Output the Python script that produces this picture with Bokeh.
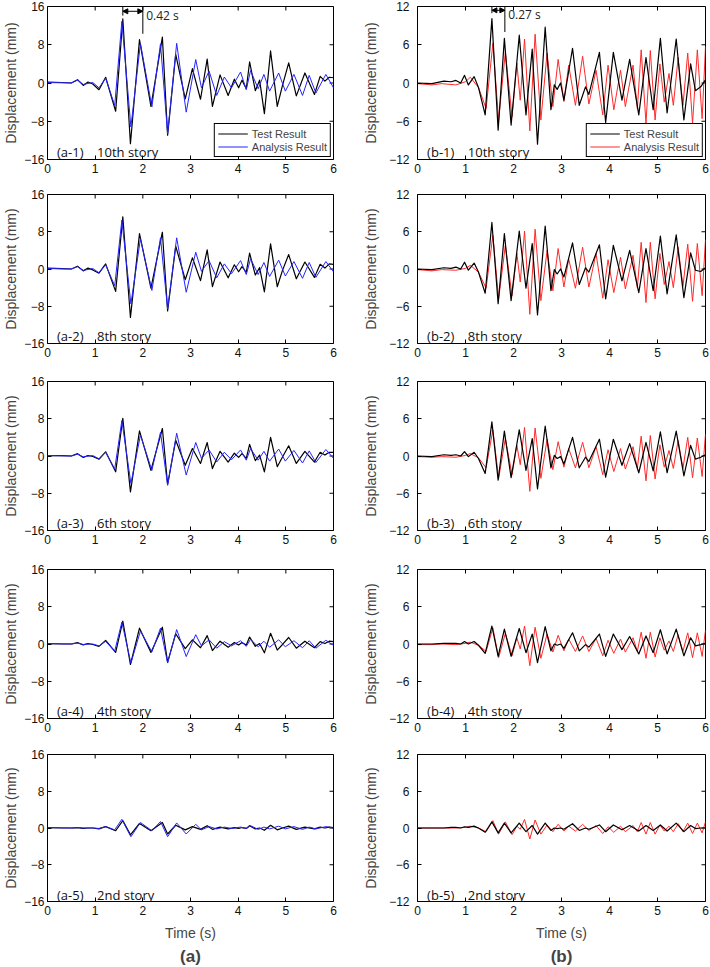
from bokeh.plotting import figure
from bokeh.models import (Range1d, FixedTicker, LinearAxis, Legend, LegendItem, Label,
                          Arrow, NormalHead, Title)
from bokeh.layouts import row, column
from bokeh.embed import file_html
from bokeh.resources import INLINE

# ---------------- data ----------------
time_ticks = [0, 1, 2, 3, 4, 5, 6]
ticks_a = [-16, -8, 0, 8, 16]
ticks_b = [-12, -6, 0, 6, 12]

# (a) column : test result (black) and analysis result (blue)
t_a_test = [0, 0.3, 0.5, 0.63, 0.75, 0.85, 0.95, 1.08, 1.22, 1.43, 1.58, 1.74, 1.93, 2.17,
            2.41, 2.52, 2.69, 2.89, 3.04, 3.21, 3.35, 3.46, 3.62, 3.79, 3.92, 4.01, 4.08,
            4.17, 4.24, 4.36, 4.45, 4.55, 4.68, 4.82, 4.93, 5.06, 5.22, 5.40, 5.60, 5.72,
            5.82, 5.91, 6.0]
a1_test = [0.2, 0.1, 0.0, 0.7, -0.5, 0.2, -0.2, -1.4, 1.2, -5.9, 13.4, -12.7, 9.1, -4.9,
           9.6, -10.9, 6.0, -3.3, 3.0, -3.4, 5.0, -4.9, 1.7, -2.6, 0.8, -1.0, 0.6, -1.2,
           4.4, -1.6, 0.6, -6.4, 6.7, -4.9, -0.5, 4.2, -2.7, 2.1, -2.4, 1.4, 0.4, 1.2, 1.1]
a2_test = [0.2, 0.1, 0.0, 0.6, -0.4, 0.2, -0.2, -0.9, 1.1, -4.8, 11.2, -10.4, 7.6, -4.1,
           7.9, -9.0, 4.9, -2.3, 2.4, -2.5, 4.1, -3.8, 1.5, -1.9, 0.9, -0.6, 0.5, -0.7,
           3.4, -1.3, 0.3, -4.9, 5.4, -3.8, -0.3, 3.1, -2.1, 1.5, -1.8, 1.0, 0.2, 1.1, 1.0]
a3_test = [0.1, 0.1, 0.0, 0.5, -0.3, 0.1, -0.1, -0.7, 0.9, -3.4, 8.1, -7.7, 5.4, -3.1,
           5.9, -6.1, 3.4, -2.0, 1.6, -1.6, 2.9, -2.7, 1.0, -1.3, 0.6, -0.3, 0.5, -0.5,
           2.5, -1.0, 0.2, -3.4, 4.0, -2.3, -0.2, 2.2, -1.6, 1.0, -1.3, 0.8, 0.2, 0.8, 0.8]
a4_test = [0.1, 0.0, 0.0, 0.3, -0.2, 0.1, -0.1, -0.5, 0.75, -1.8, 4.9, -4.4, 3.4, -1.8,
           3.6, -3.9, 2.2, -1.0, 0.9, -0.8, 1.8, -1.4, 0.6, -0.7, 0.3, -0.2, 0.3, -0.2,
           1.5, -0.5, 0.1, -1.9, 2.3, -1.3, -0.1, 1.4, -0.9, 0.6, -0.8, 0.5, 0.1, 0.6, 0.5]
a5_test = [0.1, 0.0, 0.0, 0.1, -0.1, 0.0, 0.0, -0.2, 0.3, -0.6, 1.6, -1.5, 1.0, -0.6,
           1.2, -1.3, 0.6, -0.4, 0.3, -0.3, 0.5, -0.3, 0.2, -0.2, 0.1, -0.1, 0.1, -0.1,
           0.5, -0.2, 0.0, -0.5, 0.6, -0.4, 0.0, 0.4, -0.3, 0.2, -0.2, 0.2, 0.0, 0.2, 0.1]

t_a_ana = [0, 0.5, 0.63, 0.75, 0.95, 1.08, 1.22, 1.41, 1.56, 1.75, 1.95, 2.19, 2.37, 2.52,
           2.71, 2.91, 3.11, 3.23, 3.39, 3.55, 3.71, 3.86, 4.05, 4.17, 4.26, 4.42, 4.54,
           4.66, 4.85, 4.99, 5.17, 5.35, 5.49, 5.63, 5.84, 6.0]
a1_ana = [0.1, 0.0, 0.6, -0.3, 0.1, -1.0, 1.0, -4.7, 12.9, -9.2, 8.3, -5.0, 8.2, -10.6,
          8.3, -6.1, 4.9, -1.0, 2.5, -2.6, 1.25, -1.0, 2.3, -1.4, 2.6, -1.2, 1.8, -1.7,
          2.1, -1.7, 1.8, -2.6, 1.6, -2.1, 1.8, -1.0]
a2_ana = [0.1, 0.0, 0.5, -0.3, 0.1, -0.8, 0.9, -3.6, 10.5, -7.5, 6.5, -4.6, 6.7, -8.6,
          6.7, -5.0, 3.6, -0.5, 1.8, -1.9, 1.1, -1.0, 1.8, -1.2, 2.2, -1.2, 1.4, -1.6,
          1.9, -1.5, 1.6, -2.0, 1.4, -1.8, 1.6, -0.6]
a3_ana = [0.1, 0.0, 0.4, -0.2, 0.1, -0.6, 0.8, -2.8, 7.6, -5.9, 4.5, -3.1, 5.1, -6.3,
          4.9, -4.1, 2.9, -0.5, 1.3, -1.3, 0.8, -0.8, 1.3, -0.9, 1.6, -0.9, 1.0, -1.1,
          1.5, -1.1, 1.2, -1.5, 1.1, -1.4, 1.4, -0.5]
a4_ana = [0.1, 0.0, 0.2, -0.1, 0.0, -0.4, 0.6, -1.5, 4.7, -4.1, 2.8, -1.7, 3.4, -4.1,
          3.1, -2.7, 2.0, -0.4, 0.9, -0.9, 0.5, -0.4, 0.7, -0.5, 1.0, -0.6, 0.6, -0.7,
          0.9, -0.6, 0.7, -0.8, 0.7, -0.9, 0.8, -0.3]
a5_ana = [0.1, 0.0, 0.1, 0.0, 0.0, -0.1, 0.3, -0.4, 1.9, -1.9, 1.2, -0.6, 1.4, -1.9,
          1.1, -1.3, 0.8, -0.4, 0.3, -0.2, 0.2, -0.1, 0.2, -0.1, 0.5, -0.3, 0.2, -0.2,
          0.4, -0.2, 0.3, -0.3, 0.2, -0.2, 0.3, 0.0]

# (b) column : test result (black) and analysis result (red)
t_b_test = [0, 0.3, 0.55, 0.7, 0.8, 0.9, 0.98, 1.06, 1.18, 1.27, 1.41, 1.55, 1.68, 1.81,
            1.95, 2.12, 2.26, 2.39, 2.50, 2.66, 2.78, 2.85, 2.91, 2.98, 3.05, 3.23, 3.37,
            3.50, 3.57, 3.79, 3.92, 4.08, 4.26, 4.42, 4.61, 4.76, 4.91, 5.06, 5.20, 5.39,
            5.55, 5.69, 5.79, 5.9, 6.0]
b1_test = [0, -0.1, 0.3, 0.2, 0.4, 0.0, 1.2, -0.3, 1.0, -0.7, -5.0, 10.1, -7.4, 7.0,
           -6.6, 7.5, -5.0, 5.3, -9.6, 8.75, -4.2, -0.3, -1.0, 0.0, -2.7, 5.45, -3.5,
           -0.6, -1.8, 4.8, -6.2, 4.8, -2.7, 3.7, -5.0, 4.0, -4.2, 7.0, -4.7, 6.9,
           -5.8, 3.0, -1.2, -0.6, 0.5]
b2_test = [0, -0.1, 0.2, 0.1, 0.3, 0.0, 1.1, -0.2, 0.95, -0.5, -3.9, 7.5, -5.6, 5.7,
           -5.1, 6.1, -3.1, 4.1, -7.4, 6.9, -3.5, -0.1, -0.8, 0.0, -1.3, 4.2, -2.5,
           0.2, -0.5, 3.9, -4.8, 3.8, -1.9, 3.0, -3.8, 3.3, -3.5, 5.3, -4.0, 5.5,
           -4.6, 2.6, -0.2, -0.4, 0.2]
b3_test = [0, -0.1, 0.2, 0.1, 0.2, 0.0, 0.7, -0.1, 0.6, -0.4, -2.8, 5.5, -3.9, 4.0,
           -3.5, 4.2, -2.3, 2.8, -5.3, 4.8, -1.9, 0.1, -0.4, -0.1, -1.3, 3.0, -1.9,
           -0.2, -0.9, 2.7, -3.4, 2.7, -1.5, 2.0, -2.7, 2.2, -2.4, 3.9, -2.7, 4.0,
           -3.2, 1.7, -0.5, -0.2, 0.2]
b4_test = [0, 0.0, 0.1, 0.1, 0.1, 0.0, 0.4, 0.0, 0.4, -0.2, -1.5, 2.9, -2.0, 2.4,
           -2.0, 2.5, -1.4, 1.6, -3.0, 2.8, -1.1, 0.0, -0.2, 0.0, -0.7, 1.8, -1.1,
           -0.1, -0.5, 1.6, -2.0, 1.6, -0.9, 1.2, -1.6, 1.3, -1.4, 2.3, -1.6, 2.4,
           -1.9, 1.0, -0.3, -0.1, 0.1]
b5_test = [0, 0.0, 0.0, 0.1, 0.1, 0.0, 0.2, 0.1, 0.3, 0.0, -0.7, 1.0, -0.8, 0.8,
           -0.8, 0.8, -0.6, 0.4, -1.0, 0.8, -0.4, 0.0, -0.1, 0.0, -0.2, 0.7, -0.4,
           0.0, -0.2, 0.5, -0.6, 0.5, -0.3, 0.4, -0.5, 0.4, -0.4, 0.5, -0.5, 0.8,
           -0.6, 0.4, -0.1, 0.0, 0.0]

t_b_ana = [0, 0.3, 0.5, 0.8, 1.0, 1.10, 1.27, 1.43, 1.57, 1.69, 1.83, 1.97, 2.07, 2.14,
           2.23, 2.34, 2.45, 2.57, 2.70, 2.82, 2.93, 3.05, 3.15, 3.29, 3.44, 3.57, 3.72,
           3.86, 3.97, 4.09, 4.23, 4.33, 4.49, 4.58, 4.66, 4.76, 4.85, 4.95, 5.05, 5.14,
           5.24, 5.33, 5.43, 5.53, 5.63, 5.73, 5.83, 5.93, 6.0]
b1_ana = [-0.1, -0.3, -0.1, -0.3, 0.2, 0.9, -0.7, -4.0, 6.2, -5.8, 4.8, -5.3, 3.1, -2.7,
          6.9, -7.5, 7.65, -5.8, 4.7, -3.7, 3.7, -2.9, 2.8, -3.5, 4.2, -3.3, 2.0, -5.0,
          2.8, -4.2, 2.0, -3.7, 2.8, -4.0, 5.2, -6.3, 5.1, -5.8, 3.0, -3.0, 1.5, -3.5,
          4.0, -3.5, 4.7, -6.3, 5.2, -5.6, 5.7]
b2_ana = [-0.1, -0.3, -0.1, -0.2, 0.1, 0.6, -0.5, -3.1, 5.4, -4.8, 3.8, -4.3, 2.5, -2.1,
          6.1, -7.3, 6.4, -5.1, 3.0, -3.5, 3.3, -2.9, 1.6, -3.1, 3.5, -2.9, 2.5, -4.7,
          1.5, -3.8, 1.9, -3.2, 2.2, -3.0, 4.3, -5.4, 4.3, -4.8, 2.5, -2.5, 1.2, -3.0,
          3.5, -2.8, 4.0, -5.2, 4.1, -4.3, 4.7]
b3_ana = [-0.1, -0.2, -0.1, -0.2, 0.1, 0.4, -0.3, -1.9, 4.2, -3.6, 2.8, -3.0, 1.7, -1.4,
          4.6, -5.7, 4.5, -3.6, 2.7, -2.2, 2.3, -1.8, 1.2, -1.9, 2.2, -1.9, 1.5, -3.0,
          1.0, -2.5, 1.2, -2.1, 1.5, -2.0, 3.2, -4.0, 3.3, -3.7, 1.8, -1.8, 0.9, -2.0,
          2.5, -2.0, 3.0, -3.5, 2.9, -3.3, 3.5]
b4_ana = [-0.1, -0.1, 0.0, -0.1, 0.1, 0.3, -0.2, -1.2, 2.6, -2.2, 1.7, -1.9, 1.0, -0.8,
          2.9, -3.5, 2.7, -2.3, 1.6, -1.3, 1.4, -1.1, 0.8, -1.2, 1.3, -1.2, 0.9, -1.9,
          0.6, -1.5, 0.8, -1.3, 1.0, -1.2, 1.9, -2.3, 1.9, -2.1, 1.0, -1.0, 0.5, -1.2,
          1.5, -1.2, 1.8, -2.2, 1.8, -2.0, 2.2]
b5_ana = [0.0, 0.0, 0.0, 0.0, 0.1, 0.3, 0.0, -0.6, 1.2, -1.0, 1.0, -1.1, 0.3, -0.2,
          1.4, -1.8, 1.3, -1.0, 0.5, -0.6, 0.6, -0.5, 0.3, -0.5, 0.6, -0.4, 0.4, -0.9,
          0.2, -0.7, 0.3, -0.6, 0.4, -0.6, 0.9, -1.0, 0.9, -1.0, 0.5, -0.5, 0.3, -0.6,
          0.7, -0.6, 0.8, -0.9, 0.8, -0.8, 1.0]

panel_tags_a = ["(a-1)", "(a-2)", "(a-3)", "(a-4)", "(a-5)"]
panel_tags_b = ["(b-1)", "(b-2)", "(b-3)", "(b-4)", "(b-5)"]
stories = ["10th story", "8th story", "6th story", "4th story", "2nd story"]
a_test = [a1_test, a2_test, a3_test, a4_test, a5_test]
a_ana = [a1_ana, a2_ana, a3_ana, a4_ana, a5_ana]
b_test = [b1_test, b2_test, b3_test, b4_test, b5_test]
b_ana = [b1_ana, b2_ana, b3_ana, b4_ana, b5_ana]

# period-lag markers on the top panels: (peak time 1, peak time 2)
lag_a = [1.58, 2.00]
lag_a_text = "0.42 s"
lag_b = [1.55, 1.82]
lag_b_text = "0.27 s"

# ---------------- styling / layout ----------------
TEST_COLOR = "#000000"
BLUE = "#2424ff"
RED = "#ff2a2a"
TICK_FONT = "Liberation Sans"
TXT_FONT = "Open Sans"

FRAME_W = 288
ROW_TOP = [6, 7, 7, 7, 7]
ROW_FRAME = [153, 149, 149, 149, 149]
ROW_BOTTOM = [28, 31, 32, 29, 64]
TICK_PX = 4


def style_axis(ax, standoff):
    ax.axis_line_color = None
    ax.major_tick_in = TICK_PX
    ax.major_tick_out = 0
    ax.minor_tick_in = 0
    ax.minor_tick_out = 0
    ax.major_tick_line_color = "black"
    ax.major_tick_line_width = 1
    ax.major_label_text_font = TICK_FONT
    ax.major_label_text_color = "#111111"
    ax.major_label_text_font_size = "12px"
    ax.major_label_standoff = standoff


def make_panel(col, r):
    is_a = col == "a"
    lim = 16 if is_a else 12
    yt = ticks_a if is_a else ticks_b
    bl, br = (45, 12) if is_a else (72, 5)
    T, FH, B = ROW_TOP[r], ROW_FRAME[r], ROW_BOTTOM[r]
    p = figure(width=bl + FRAME_W + br, height=T + FH + B,
               x_range=Range1d(0, 6), y_range=Range1d(-lim, lim),
               x_axis_type=None, y_axis_type=None,
               output_backend="svg", toolbar_location=None,
               min_border_left=bl, min_border_right=br,
               min_border_top=T, min_border_bottom=B)
    p.outline_line_color = "black"
    p.outline_line_alpha = 1
    p.outline_line_width = 1
    p.background_fill_color = "white"
    p.border_fill_color = "white"

    xa = LinearAxis(ticker=FixedTicker(ticks=time_ticks, minor_ticks=[]))
    style_axis(xa, 4)
    if r == 4:
        xa.axis_label = "Time (s)"
        xa.axis_label_text_font = TICK_FONT
        xa.axis_label_text_font_style = "normal"
        xa.axis_label_text_font_size = "14px"
        xa.axis_label_standoff = 7
    p.add_layout(xa, "below")

    ya = LinearAxis(ticker=FixedTicker(ticks=yt, minor_ticks=[]))
    style_axis(ya, 3 if is_a else 8)
    ya.axis_label = "Displacement (mm)"
    ya.axis_label_text_font = TICK_FONT
    ya.axis_label_text_font_style = "normal"
    ya.axis_label_text_font_size = "14px"
    ya.axis_label_standoff = 2 if is_a else 7
    p.add_layout(ya, "left")

    # inward tick marks mirrored on the top and right frame edges
    dy = TICK_PX * (2 * lim) / FH
    dx = TICK_PX * 6 / FRAME_W
    p.segment(x0=time_ticks, x1=time_ticks, y0=[lim] * len(time_ticks),
              y1=[lim - dy] * len(time_ticks), line_color="black", line_width=1)
    p.segment(x0=[6] * len(yt), x1=[6 - dx] * len(yt), y0=yt, y1=yt,
              line_color="black", line_width=1)

    if is_a:
        r_test = p.line(t_a_test, a_test[r], line_color=TEST_COLOR, line_width=1.2,
                        line_join="round")
        r_ana = p.line(t_a_ana, a_ana[r], line_color=BLUE, line_width=1.0,
                       line_join="round")
    else:
        r_ana = p.line(t_b_ana, b_ana[r], line_color=RED, line_width=1.0,
                       line_join="round")
        r_test = p.line(t_b_test, b_test[r], line_color=TEST_COLOR, line_width=1.2,
                        line_join="round")

    tag = (panel_tags_a if is_a else panel_tags_b)[r]
    p.add_layout(Label(x=0.2, y=-lim * 0.905, text=tag + "\u00a0\u00a0\u00a0 " + stories[r],
                       text_font=TXT_FONT, text_font_size="13px", text_color="#111111",
                       text_baseline="alphabetic"))

    if r == 0:
        leg = Legend(items=[LegendItem(label="Test Result", renderers=[r_test]),
                            LegendItem(label="Analysis Result", renderers=[r_ana])],
                     location="bottom_right", margin=2, padding=3, spacing=0,
                     label_height=13, glyph_height=13, glyph_width=30, label_standoff=4,
                     label_text_font=TICK_FONT, label_text_font_size="11px",
                     border_line_color="black", border_line_width=1, border_line_alpha=1,
                     background_fill_alpha=1)
        p.add_layout(leg)
        lag = lag_a if is_a else lag_b
        if is_a:
            tops = [14.1, 10.3]
            y_arr = 15.0
            y_txt = 14.2
        else:
            tops = [10.95, 8.0]
            y_arr = 11.4
            y_txt = 10.7
        p.segment(x0=lag, y0=[lim, lim], x1=lag, y1=tops, line_color="black", line_width=1)
        p.add_layout(Arrow(x_start=lag[0], y_start=y_arr, x_end=lag[1], y_end=y_arr,
                           line_color="black", line_width=1,
                           start=NormalHead(size=5, fill_color="black", line_color="black"),
                           end=NormalHead(size=5, fill_color="black", line_color="black")))
        p.add_layout(Label(x=lag[1] + 0.07, y=y_txt, text=lag_a_text if is_a else lag_b_text,
                           text_font=TXT_FONT, text_font_size="12px", text_color="#222222",
                           text_baseline="middle"))

    if r == 4:
        p.add_layout(Title(text="(a)" if is_a else "(b)", align="center",
                           text_font=TICK_FONT, text_font_size="17px",
                           text_font_style="bold", standoff=3), "below")
    return p


rows = []
for r in range(5):
    rows.append(row(make_panel("a", r), make_panel("b", r)))

layout = column(*rows)

with open("out.html", "w") as f:
    f.write(file_html(layout, INLINE, "Displacement time histories"))
